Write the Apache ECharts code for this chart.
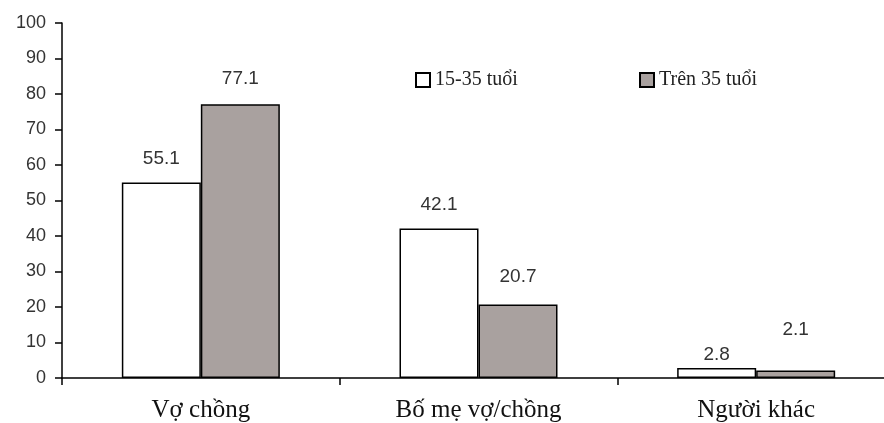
<!DOCTYPE html>
<html>
<head>
<meta charset="utf-8">
<script src="https://cdn.jsdelivr.net/npm/echarts@6/dist/echarts.min.js"></script>
<style>
  html, body { margin: 0; padding: 0; background: #fff; overflow: hidden; }
  /* the plot's x axis runs a little past the right edge of the window */
  #chart { width: 900px; height: 423px; }
</style>
</head>
<body>
<div id="chart"></div>
<script>
// Categories and values per age group (%)
var categories = ['Vợ chồng', 'Bố mẹ vợ/chồng', 'Người khác'];
var seriesNames = ['15-35 tuổi', 'Trên 35 tuổi'];
var youngValues = [55.1, 42.1, 2.8];
var olderValues = [77.1, 20.7, 2.1];
var yTicks = { min: 0, max: 100, interval: 10 };

// Gap (px) between each bar top and its value label
var youngLabelGap = [14, 14, 4];
var olderLabelGap = [16, 18, 31];

var chart = echarts.init(document.getElementById('chart'), null, { renderer: 'canvas' });

function labelStyle() {
  return {
    show: true,
    position: 'top',
    distance: 14,
    fontFamily: 'Liberation Sans, Arial, sans-serif',
    fontSize: 19,
    color: '#333'
  };
}

function withLabelGaps(values, gaps) {
  return values.map(function (v, i) {
    return { value: v, label: { distance: gaps[i] } };
  });
}

var legendBase = {
  top: 70,
  padding: 0,
  itemWidth: 14,
  itemHeight: 14,
  itemGap: 5,
  icon: 'rect',
  textStyle: { fontFamily: 'Liberation Serif, Times New Roman, serif', fontSize: 20, color: '#222' }
};

chart.setOption({
  animation: false,
  backgroundColor: '#fff',
  grid: { left: 62, right: 5, top: 23, bottom: 45, containLabel: false },
  legend: [
    Object.assign({ left: 415, data: [seriesNames[0]] }, legendBase),
    Object.assign({ left: 639, data: [seriesNames[1]] }, legendBase)
  ],
  xAxis: {
    type: 'category',
    data: categories,
    axisLine: { lineStyle: { color: '#000', width: 1.5 } },
    axisTick: { show: true, length: 7, lineStyle: { color: '#000', width: 1.5 } },
    axisLabel: {
      margin: 20,
      fontFamily: 'Liberation Serif, Times New Roman, serif',
      fontSize: 25,
      color: '#111'
    }
  },
  yAxis: {
    type: 'value',
    min: yTicks.min,
    max: yTicks.max,
    interval: yTicks.interval,
    splitLine: { show: false },
    axisLine: { show: true, lineStyle: { color: '#000', width: 1.5 } },
    axisTick: { show: true, length: 7, lineStyle: { color: '#000', width: 1.5 } },
    axisLabel: {
      margin: 16,
      fontFamily: 'Liberation Sans, Arial, sans-serif',
      fontSize: 18,
      color: '#333'
    }
  },
  series: [
    {
      name: seriesNames[0],
      type: 'bar',
      data: withLabelGaps(youngValues, youngLabelGap),
      barWidth: 79,
      barGap: '0%',
      itemStyle: { color: '#ffffff', borderColor: '#000', borderWidth: 1.5 },
      label: labelStyle()
    },
    {
      name: seriesNames[1],
      type: 'bar',
      data: withLabelGaps(olderValues, olderLabelGap),
      barWidth: 79,
      barGap: '0%',
      itemStyle: { color: '#a9a19f', borderColor: '#000', borderWidth: 1.5 },
      label: labelStyle()
    }
  ]
});
</script>
</body>
</html>
